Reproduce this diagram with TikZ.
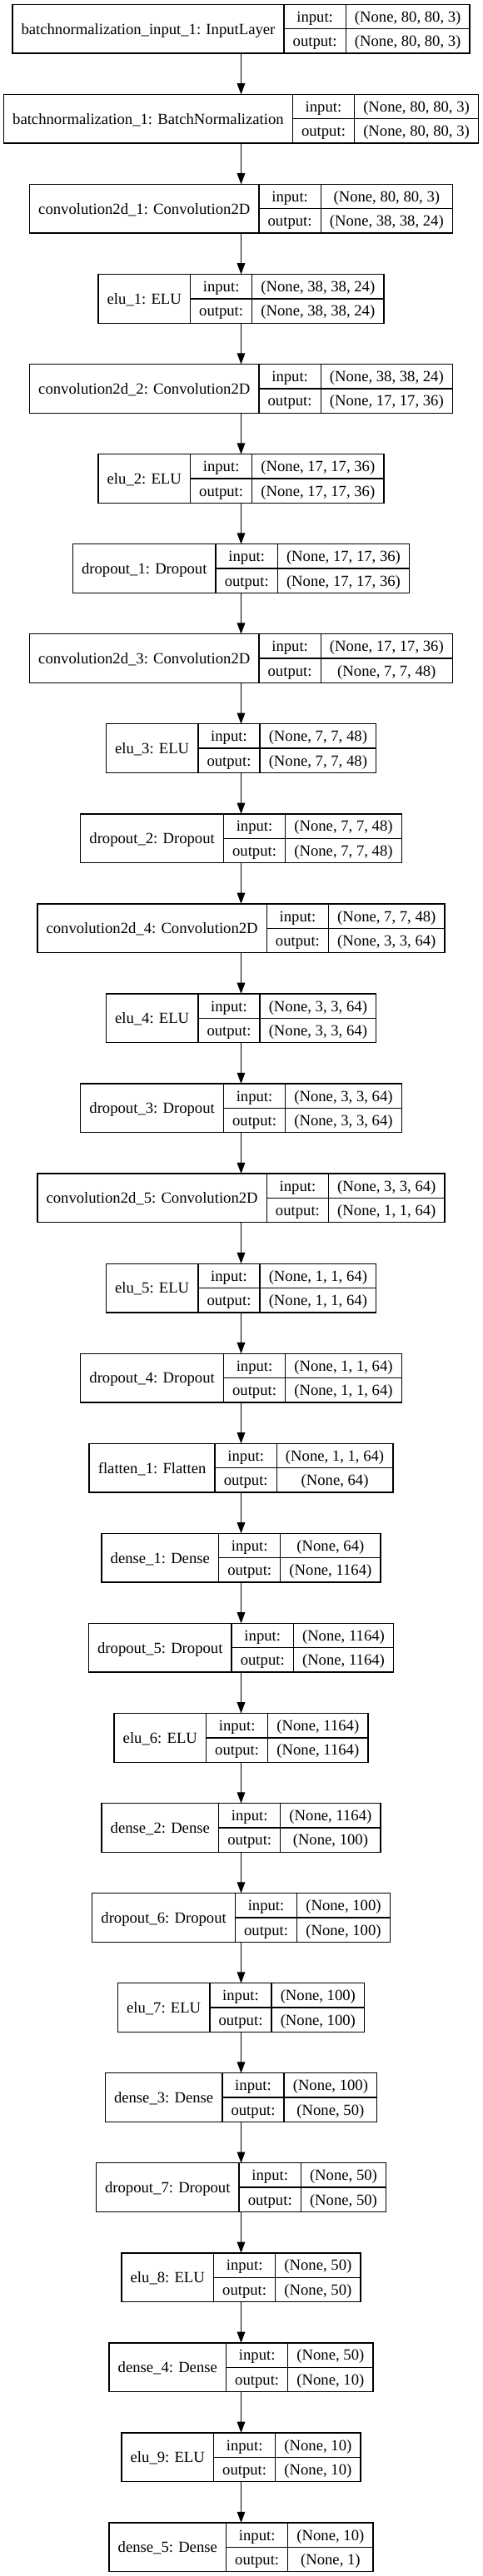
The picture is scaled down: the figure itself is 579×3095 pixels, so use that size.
\documentclass[tikz,border=0pt]{standalone}
\usepackage{fontspec}
\setmainfont{Liberation Serif}
\usetikzlibrary{arrows.meta}
\newdimen\wa \newdimen\wb \newdimen\wc \newdimen\wt
\newcommand\gvf{\fontsize{18.667pt}{22pt}\selectfont}
\newcommand\meas[1]{\setbox0\hbox{\pgfinterruptpicture\gvf #1\endpgfinterruptpicture}}
\tikzset{
  box/.style={draw, line width=1.333pt, inner sep=0pt, outer sep=0pt, minimum height=58.667pt},
  div/.style={line width=1.333pt},
  txt/.style={inner sep=0pt, font=\gvf},
  arr/.style={line width=1.333pt, -{Triangle[length=13.3pt,width=9.6pt]}}
}
\newcommand\lyr[4]{%
  \meas{#2}\wa=\wd0 \advance\wa by 21.333pt
  \meas{output:}\wb=\wd0 \advance\wb by 21.333pt
  \meas{#3}\wc=\wd0
  \meas{#4}\wt=\wd0
  \ifdim\wt>\wc \wc=\wt\fi \advance\wc by 21.333pt
  \pgfmathsetmacro\yc{-(34.667+(#1-1)*108.06)}%
  \pgfmathsetmacro\wtot{\the\wa+\the\wb+\the\wc}%
  \pgfmathsetmacro\xl{289.5-\wtot/2}%
  \pgfmathsetmacro\xa{\xl+\the\wa}%
  \pgfmathsetmacro\xb{\xa+\the\wb}%
  \pgfmathsetmacro\xr{\xb+\the\wc}%
  \node[box, minimum width=\wtot pt] (L#1) at (289.5pt,\yc pt) {};
  \draw[div] (\xa pt,\yc pt+29.333pt) -- (\xa pt,\yc pt-29.333pt);
  \draw[div] (\xb pt,\yc pt+29.333pt) -- (\xb pt,\yc pt-29.333pt);
  \draw[div] (\xa pt,\yc pt) -- (\xr pt,\yc pt);
  \node[txt, anchor=base] (L#1n) at ({(\xl+\xa)/2*1pt},\yc pt-6.4pt) {#2};
  \node[txt, anchor=base] (L#1i) at ({(\xa+\xb)/2*1pt},\yc pt+14.667pt-6.4pt) {input:};
  \node[txt, anchor=base] (L#1o) at ({(\xa+\xb)/2*1pt},\yc pt-14.667pt-6.4pt) {output:};
  \node[txt, anchor=base] (L#1a) at ({(\xb+\xr)/2*1pt},\yc pt+14.667pt-6.4pt) {#3};
  \node[txt, anchor=base] (L#1b) at ({(\xb+\xr)/2*1pt},\yc pt-14.667pt-6.4pt) {#4};
}
\begin{document}
\begin{tikzpicture}
\useasboundingbox[fill=white] (0pt,0pt) rectangle (579pt,-3095pt);
\lyr{1}{batchnormalization\_input\_1: InputLayer}{(None, 80, 80, 3)}{(None, 80, 80, 3)}
\lyr{2}{batchnormalization\_1: BatchNormalization}{(None, 80, 80, 3)}{(None, 80, 80, 3)}
\lyr{3}{convolution2d\_1: Convolution2D}{(None, 80, 80, 3)}{(None, 38, 38, 24)}
\lyr{4}{elu\_1: ELU}{(None, 38, 38, 24)}{(None, 38, 38, 24)}
\lyr{5}{convolution2d\_2: Convolution2D}{(None, 38, 38, 24)}{(None, 17, 17, 36)}
\lyr{6}{elu\_2: ELU}{(None, 17, 17, 36)}{(None, 17, 17, 36)}
\lyr{7}{dropout\_1: Dropout}{(None, 17, 17, 36)}{(None, 17, 17, 36)}
\lyr{8}{convolution2d\_3: Convolution2D}{(None, 17, 17, 36)}{(None, 7, 7, 48)}
\lyr{9}{elu\_3: ELU}{(None, 7, 7, 48)}{(None, 7, 7, 48)}
\lyr{10}{dropout\_2: Dropout}{(None, 7, 7, 48)}{(None, 7, 7, 48)}
\lyr{11}{convolution2d\_4: Convolution2D}{(None, 7, 7, 48)}{(None, 3, 3, 64)}
\lyr{12}{elu\_4: ELU}{(None, 3, 3, 64)}{(None, 3, 3, 64)}
\lyr{13}{dropout\_3: Dropout}{(None, 3, 3, 64)}{(None, 3, 3, 64)}
\lyr{14}{convolution2d\_5: Convolution2D}{(None, 3, 3, 64)}{(None, 1, 1, 64)}
\lyr{15}{elu\_5: ELU}{(None, 1, 1, 64)}{(None, 1, 1, 64)}
\lyr{16}{dropout\_4: Dropout}{(None, 1, 1, 64)}{(None, 1, 1, 64)}
\lyr{17}{flatten\_1: Flatten}{(None, 1, 1, 64)}{(None, 64)}
\lyr{18}{dense\_1: Dense}{(None, 64)}{(None, 1164)}
\lyr{19}{dropout\_5: Dropout}{(None, 1164)}{(None, 1164)}
\lyr{20}{elu\_6: ELU}{(None, 1164)}{(None, 1164)}
\lyr{21}{dense\_2: Dense}{(None, 1164)}{(None, 100)}
\lyr{22}{dropout\_6: Dropout}{(None, 100)}{(None, 100)}
\lyr{23}{elu\_7: ELU}{(None, 100)}{(None, 100)}
\lyr{24}{dense\_3: Dense}{(None, 100)}{(None, 50)}
\lyr{25}{dropout\_7: Dropout}{(None, 50)}{(None, 50)}
\lyr{26}{elu\_8: ELU}{(None, 50)}{(None, 50)}
\lyr{27}{dense\_4: Dense}{(None, 50)}{(None, 10)}
\lyr{28}{elu\_9: ELU}{(None, 10)}{(None, 10)}
\lyr{29}{dense\_5: Dense}{(None, 10)}{(None, 1)}
\foreach \i [evaluate=\i as \j using int(\i+1)] in {1,...,28}
  \draw[arr] (L\i.south) -- (L\j.north);
\end{tikzpicture}
\end{document}
